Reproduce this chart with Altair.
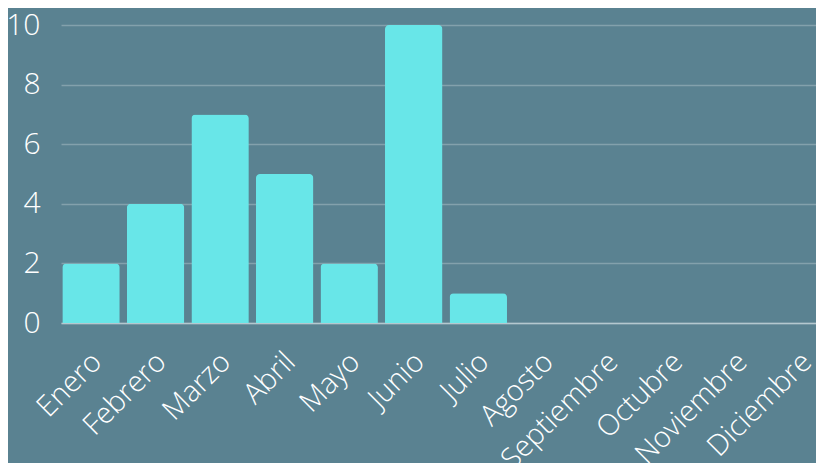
import altair as alt
import pandas as pd

meses = ["Enero", "Febrero", "Marzo", "Abril", "Mayo", "Junio", "Julio",
         "Agosto", "Septiembre", "Octubre", "Noviembre", "Diciembre"]
valores = [2, 4, 7, 5, 2, 10, 1, 0, 0, 0, 0, 0]

df = pd.DataFrame({"mes": meses, "valor": valores})

BG = "#5a8291"
FONT = "Open Sans"

chart = alt.Chart(df).mark_bar(
    color="#68e6e8", cornerRadiusTopLeft=4, cornerRadiusTopRight=4
).encode(
    x=alt.X("mes:N", sort=meses, title=None,
            scale=alt.Scale(paddingInner=0.11, paddingOuter=0.02, range=[0, 770]),
            axis=alt.Axis(labelAngle=-45, labelFontSize=29, labelColor="#ffffff",
                          labelFont=FONT, labelFontWeight=300, ticks=False,
                          domainColor="#b4c8cf", domainWidth=1.5, labelPadding=24,
                          labelOffset=-4,
                          grid=False, labelOverlap=False, labelBound=False)),
    y=alt.Y("valor:Q", title=None,
            scale=alt.Scale(domain=[0, 10]),
            axis=alt.Axis(values=[0, 2, 4, 6, 8, 10], labelFontSize=30,
                          labelColor="#ffffff", labelFont=FONT, labelFontWeight=300,
                          ticks=False, domain=False, labelPadding=21,
                          gridColor="#ffffff", gridOpacity=0.25, gridWidth=1.5)),
).properties(
    width=755,
    height=298,
    background=BG,
    autosize=alt.AutoSizeParams(type="none"),
    padding={"left": 53, "top": 17, "right": 0, "bottom": 140},
).configure_view(stroke=None)

chart.save("out.html", embed_options={"renderer": "svg", "actions": False})
